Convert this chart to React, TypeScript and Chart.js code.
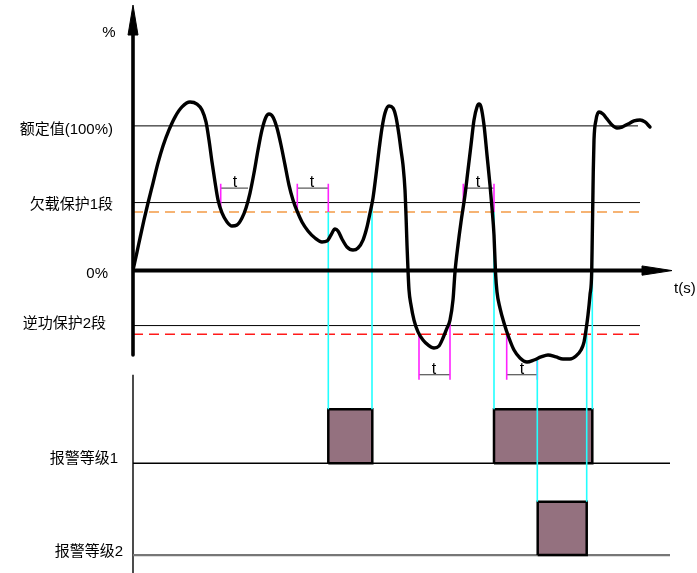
import React, { useEffect, useRef } from "react";
import { Chart, registerables } from "chart.js";

Chart.register(...registerables);

// ---- scale ranges (time units from origin, percent of rated value) ----
const X_MIN = -133;
const X_MAX = 564;
const Y_MIN = -209;
const Y_MAX = 187;

// ---- measured signal curve ----
const curveT = [
  0.5, 4, 7, 11, 15, 20, 25, 30, 36, 42,
  49, 57, 64, 69, 73, 76, 79, 82, 85, 89,
  94, 99, 104, 109, 113, 117, 121, 125, 129, 133,
  136, 140, 144, 148, 152, 156, 160, 164, 169, 175,
  182, 189, 194, 198, 202, 205, 209, 214, 220, 225,
  230, 234, 237, 240, 243, 246, 249, 252, 256, 260,
  263, 266, 268, 270, 272, 273, 274, 275, 276, 278,
  281, 285, 290, 295, 301, 306, 310, 314, 317, 320,
  322, 325, 328, 332, 335, 338, 341, 344, 346, 348,
  351, 354, 357, 359, 361, 362.5, 364, 367, 371, 376,
  381, 387, 394, 401, 408, 415, 423, 430, 437, 443,
  448, 451, 453, 455, 457, 458.7, 459.3, 459.8, 460.3, 461,
  463, 466, 470, 474, 479, 484, 489, 495, 501, 507,
  512, 517,
];
const curveV = [
  1.8, 12.8, 22.5, 35.0, 46.7, 60.5, 74.4, 86.1, 97.2, 106.1,
  113.1, 116.5, 115.1, 111.0, 102.7, 90.2, 75.0, 61.2, 48.8, 39.8,
  33.6, 30.8, 31.5, 36.3, 43.3, 53.6, 67.4, 83.3, 97.2, 106.1,
  108.2, 106.1, 98.5, 86.8, 73.0, 59.1, 48.8, 41.2, 33.6, 27.4,
  22.5, 19.8, 20.4, 24.6, 28.7, 27.4, 21.8, 16.3, 14.2, 15.6,
  21.1, 30.1, 39.8, 50.2, 66.1, 83.3, 98.5, 108.9, 113.7, 112.4,
  106.1, 93.7, 83.3, 73.0, 55.7, 38.4, 17.7, 0.4, -13.4, -23.8,
  -34.2, -42.4, -48.0, -51.4, -53.5, -52.1, -46.6, -39.7, -34.2, -20.3,
  -1.0, 17.7, 33.6, 52.2, 69.5, 86.8, 104.1, 113.1, 115.1, 113.1,
  100.6, 79.9, 59.1, 43.3, 24.6, -1.0, -14.8, -25.9, -36.2, -46.6,
  -54.9, -60.4, -63.2, -61.8, -59.7, -58.3, -59.7, -61.1, -61.1, -59.0,
  -54.9, -49.4, -41.1, -30.7, -16.9, -1.0, 24.6, 46.7, 69.5, 90.2,
  104.1, 109.6, 108.2, 104.8, 100.6, 98.5, 99.2, 101.3, 103.4, 104.1,
  102.7, 99.2,
];

// ---- protection levels ----
const LEVEL_RATED = 100;
const LEVEL_UNDERLOAD = 47;
const LEVEL_UNDERLOAD_SET = 40.5;
const LEVEL_REVERSE = -38;
const LEVEL_REVERSE_SET = -44;
const RATED_END_T = 505;
const LEVEL_END_T = 507;

// ---- axes ----
const AXIS_Y_BOTTOM = -58.3;
const AXIS_Y_ARROW_BASE = 162.8;
const AXIS_Y_ARROW_TIP = 183.5;
const AXIS_X_ARROW_BASE = 509;
const AXIS_X_ARROW_TIP = 539;
const ALARM_AXIS_TOP = -72;

// ---- alarm rows ----
const alarmRowBase = [-133.2, -196.6];
const alarmRowTop = [-95.9, -159.7];
const ALARM_END_T = 537;
const alarmStart = [195.3, 361, 404.7];
const alarmEnd = [239.3, 459.3, 453.7];
const alarmRow = [0, 0, 1];

// ---- cyan projection lines ----
const cyanT = [195.3, 239, 361, 404.3, 453.7, 459.3];
const cyanTop = [40.5, 47, 40.5, -60.4, -38, 47];
const cyanBottom = [-95.9, -95.9, -95.9, -159.7, -159.7, -95.9];

// ---- magenta delay boundaries ----
const magT = [87.7, 164.3, 195.3, 286, 317, 330.3, 361, 373.7, 404.3];
const magTop = [60, 60, 60, -44, -37, 60, 60, -44.5, -60.4];
const magBottom = [44, 40.5, 40.5, -75.5, -75.5, 40.5, 40.5, -75.5, -75.5];

// ---- delay "t" dimensions ----
const delayStart = [87.7, 164.3, 286, 330.3, 373.7];
const delayEnd = [115, 195.3, 317, 361, 404.3];
const delayLevel = [57, 57, -72, 57, -72];
const delayLabelT = [102, 179, 301, 345, 389];

// ---- text labels ----
const sideLabels = ["额定值(100%)", "欠载保护1段", "0%", "逆功保护2段", "报警等级1", "报警等级2"];
const sideLabelT = [-20, -20, -25, -27, -15, -10];
const sideLabelV = [97.2, 45.3, -2.4, -36.9, -130.2, -194.5];
const unitLabel = "%";
const unitLabelT = -24;
const unitLabelV = 164.2;
const timeLabel = "t(s)";
const timeLabelT = 541;
const timeLabelV = -12.7;
const delayText = "t";

const FONT = "'Liberation Sans', 'Noto Sans CJK SC', sans-serif";

export default function App() {
  const ref = useRef<HTMLCanvasElement>(null);

  useEffect(() => {
    document.body.style.margin = "0";
    if (!ref.current) return;

    const base = (data: any[], color: string, width: number, order: number, extra: any = {}) => ({
      data,
      borderColor: color,
      backgroundColor: color,
      borderWidth: width,
      pointRadius: 0,
      showLine: true,
      fill: false,
      tension: 0,
      order,
      clip: false,
      borderCapStyle: "butt",
      ...extra,
    });

    const datasets: any[] = [];

    // reference level lines
    datasets.push(base([{ x: 0, y: LEVEL_RATED }, { x: RATED_END_T, y: LEVEL_RATED }], "#000", 1, 6));
    datasets.push(base([{ x: 0, y: LEVEL_UNDERLOAD }, { x: LEVEL_END_T, y: LEVEL_UNDERLOAD }], "#000", 1, 6));
    datasets.push(base([{ x: 0, y: LEVEL_REVERSE }, { x: LEVEL_END_T, y: LEVEL_REVERSE }], "#000", 1, 6));
    datasets.push(
      base([{ x: 0, y: LEVEL_UNDERLOAD_SET }, { x: LEVEL_END_T, y: LEVEL_UNDERLOAD_SET }], "#f39a45", 1.3, 6, {
        borderDash: [10, 6],
      })
    );
    datasets.push(
      base([{ x: 0, y: LEVEL_REVERSE_SET }, { x: LEVEL_END_T, y: LEVEL_REVERSE_SET }], "#ff1a1a", 1.3, 6, {
        borderDash: [10, 6],
      })
    );

    // alarm baselines
    datasets.push(base([{ x: 0, y: alarmRowBase[0] }, { x: ALARM_END_T, y: alarmRowBase[0] }], "#000", 1.4, 6));
    datasets.push(base([{ x: 0, y: alarmRowBase[1] }, { x: ALARM_END_T, y: alarmRowBase[1] }], "#777", 2.2, 6));
    datasets.push(base([{ x: 0, y: ALARM_AXIS_TOP }, { x: 0, y: Y_MIN }], "#000", 1.4, 6));

    // alarm blocks
    alarmStart.forEach((s, i) => {
      const r = alarmRow[i];
      const e = alarmEnd[i];
      datasets.push(
        base(
          [
            { x: s, y: alarmRowBase[r] },
            { x: s, y: alarmRowTop[r] },
            { x: e, y: alarmRowTop[r] },
            { x: e, y: alarmRowBase[r] },
            { x: s, y: alarmRowBase[r] },
          ],
          "#000",
          2.5,
          5,
          { fill: "shape", backgroundColor: "#94717f", borderJoinStyle: "miter" }
        )
      );
    });

    // magenta delay boundaries
    magT.forEach((t, i) => {
      datasets.push(base([{ x: t, y: magTop[i] }, { x: t, y: magBottom[i] }], "#ff22ff", 1.6, 4));
    });

    // delay dimension lines
    delayStart.forEach((s, i) => {
      datasets.push(base([{ x: s, y: delayLevel[i] }, { x: delayEnd[i], y: delayLevel[i] }], "#333", 1, 4));
    });

    // cyan projection lines
    cyanT.forEach((t, i) => {
      datasets.push(base([{ x: t, y: cyanTop[i] }, { x: t, y: cyanBottom[i] }], "#22ffff", 1.6, 3));
    });

    // axes
    datasets.push(base([{ x: 0, y: AXIS_Y_BOTTOM }, { x: 0, y: AXIS_Y_ARROW_BASE }], "#000", 3.6, 1, { borderCapStyle: "round" }));
    datasets.push(base([{ x: 0, y: 0 }, { x: AXIS_X_ARROW_BASE, y: 0 }], "#000", 4, 1));
    datasets.push(
      base(
        [
          { x: -5, y: AXIS_Y_ARROW_BASE },
          { x: 0, y: AXIS_Y_ARROW_TIP },
          { x: 5, y: AXIS_Y_ARROW_BASE },
          { x: -5, y: AXIS_Y_ARROW_BASE },
        ],
        "#000",
        1,
        1,
        { fill: "shape", backgroundColor: "#000" }
      )
    );
    datasets.push(
      base(
        [
          { x: AXIS_X_ARROW_BASE, y: 3.2 },
          { x: AXIS_X_ARROW_TIP, y: 0 },
          { x: AXIS_X_ARROW_BASE, y: -3.2 },
          { x: AXIS_X_ARROW_BASE, y: 3.2 },
        ],
        "#000",
        1,
        1,
        { fill: "shape", backgroundColor: "#000" }
      )
    );

    // signal curve
    datasets.push(
      base(
        curveT.map((t, i) => ({ x: t, y: curveV[i] })),
        "#000",
        3.4,
        0,
        { cubicInterpolationMode: "monotone", borderCapStyle: "round", borderJoinStyle: "round" }
      )
    );

    const textPlugin = {
      id: "diagramTexts",
      afterDatasetsDraw(chart: any) {
        const { ctx } = chart;
        const x = chart.scales.x;
        const y = chart.scales.y;
        ctx.save();
        ctx.fillStyle = "#000";
        ctx.textBaseline = "middle";
        ctx.font = `15px ${FONT}`;
        ctx.textAlign = "right";
        sideLabels.forEach((s, i) => {
          ctx.fillText(s, x.getPixelForValue(sideLabelT[i]), y.getPixelForValue(sideLabelV[i]));
        });
        ctx.textAlign = "center";
        ctx.fillText(unitLabel, x.getPixelForValue(unitLabelT), y.getPixelForValue(unitLabelV));
        ctx.textAlign = "left";
        ctx.fillText(timeLabel, x.getPixelForValue(timeLabelT), y.getPixelForValue(timeLabelV));
        ctx.textAlign = "center";
        ctx.textBaseline = "alphabetic";
        ctx.font = `16px ${FONT}`;
        delayLabelT.forEach((t, i) => {
          ctx.fillText(delayText, x.getPixelForValue(t), y.getPixelForValue(delayLevel[i]) - 1);
        });
        ctx.restore();
      },
    };

    const chart = new Chart(ref.current, {
      type: "scatter",
      data: { datasets },
      options: {
        animation: false,
        responsive: false,
        events: [],
        layout: { padding: 0 },
        plugins: { legend: { display: false }, tooltip: { enabled: false }, title: { display: false } },
        scales: {
          x: { type: "linear", display: false, min: X_MIN, max: X_MAX },
          y: { type: "linear", display: false, min: Y_MIN, max: Y_MAX },
        },
      },
      plugins: [textPlugin],
    } as any);

    return () => chart.destroy();
  }, []);

  return (
    <div style={{ position: "fixed", left: 0, top: 0, width: 697, height: 573, background: "#fff" }}>
      <canvas ref={ref} width={697} height={573} />
    </div>
  );
}
